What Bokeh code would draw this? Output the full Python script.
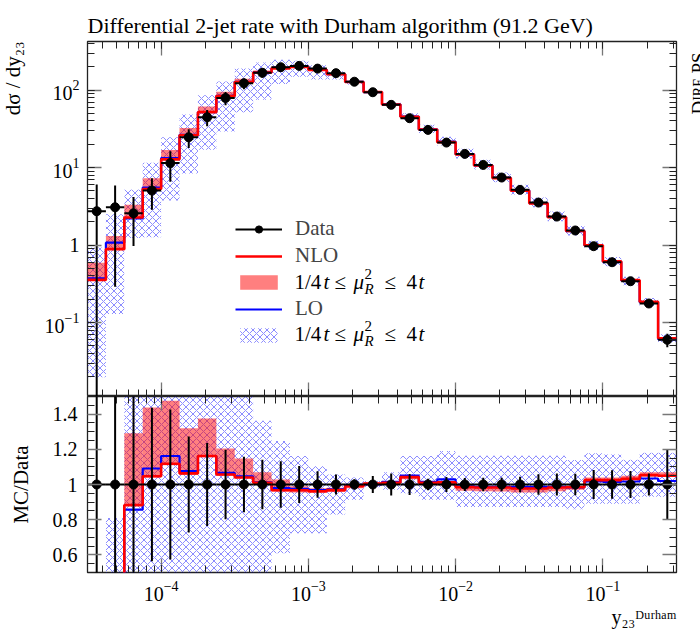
import numpy as np
from bokeh.plotting import figure
from bokeh.models import (Range1d, LogAxis, LinearAxis, LogTicker, FixedTicker,
                          Label, Legend, LegendItem, Title)
from bokeh.layouts import column, row
from bokeh.embed import file_html
from bokeh.resources import INLINE

FONT = "Liberation Serif"

# ---------------- data ----------------
log_edges = [-4.5, -4.375, -4.25, -4.125, -4.0, -3.875, -3.75, -3.625, -3.5,
             -3.375, -3.25, -3.125, -3.0, -2.875, -2.75, -2.625, -2.5, -2.375,
             -2.25, -2.125, -2.0, -1.875, -1.75, -1.625, -1.5, -1.375, -1.25,
             -1.125, -1.0, -0.875, -0.75, -0.625, -0.5]

data = [2.73, 3.07, 2.57, 5.05, 11.4, 24.6, 44.6, 79.0, 122, 167, 197, 205,
        189, 165, 128, 93.7, 64.4, 43.3, 30.6, 21.0, 15.0, 10.8, 7.43, 5.15,
        3.53, 2.33, 1.54, 0.966, 0.600, 0.341, 0.176, 0.0598]
data_err = [3.3, 2.78, 1.6, 2.2, 4.85, 6.7, 10.5, 15.6, 19.3, 23.4, 26.0, 21.5,
            14.2, 9.4, 3.8, 4.5, 4.0, 2.6, 1.0, 0.9, 0.55, 0.41, 0.28, 0.23,
            0.205, 0.145, 0.095, 0.079, 0.049, 0.026, 0.011, 0.0117]

# MC / Data ratios
nlo_ratio = [0.13, 0.288, 0.883, 1.047, 1.118, 1.063, 1.162, 1.057, 1.04, 1.01,
             0.967, 0.967, 0.962, 0.968, 0.99, 1.005, 1.01, 1.042, 1.01, 1.012,
             0.985, 0.983, 0.983, 0.977, 0.977, 0.983, 0.985, 1.025, 1.025, 1.032,
             1.053, 1.05]
nlo_band_lo = [0.127, 0.285, 0.88, 1.04, 1.11, 1.055, 1.155, 1.05, 1.035, 1.0,
               0.96, 0.955, 0.952, 0.958, 0.978, 0.995, 1.0, 1.03, 1.0, 0.995,
               0.965, 0.962, 0.96, 0.955, 0.955, 0.962, 0.97, 1.02, 1.02, 1.025,
               1.045, 1.045]
nlo_band_hi = [0.217, 0.427, 1.291, 1.438, 1.476, 1.32, 1.375, 1.204, 1.148, 1.07,
               1.029, 0.99, 0.978, 0.982, 1.0, 1.012, 1.018, 1.05, 1.015, 1.018,
               0.99, 0.988, 0.987, 0.98, 0.98, 0.985, 0.988, 1.04, 1.04, 1.05,
               1.07, 1.07]
lo_ratio = [0.136, 0.349, 0.857, 1.091, 1.162, 1.076, 1.162, 1.066, 1.047, 1.012,
            0.98, 0.975, 0.968, 0.972, 0.995, 1.0, 1.015, 1.05, 1.015, 1.029,
            0.99, 0.987, 0.987, 0.987, 0.987, 0.987, 0.983, 1.017, 1.015, 1.017,
            1.034, 1.02]
lo_band_lo = [0.0072, 0.042, 0.48, 0.25, 0.33, 0.34, 0.38, 0.37, 0.42, 0.45,
              0.609, 0.723, 0.723, 0.829, 0.914, 0.985, 0.97, 0.95, 0.914, 0.914,
              0.872, 0.872, 0.872, 0.872, 0.872, 0.872, 0.86, 0.89, 0.89, 0.89,
              0.93, 0.93]
lo_band_hi = [0.34, 0.81, 2.02, 2.28, 2.16, 1.96, 1.92, 1.63, 1.55, 1.362,
              1.247, 1.162, 1.105, 1.057, 1.04, 1.02, 1.07, 1.162, 1.162, 1.19,
              1.163, 1.163, 1.163, 1.163, 1.163, 1.163, 1.139, 1.177, 1.17, 1.14,
              1.18, 1.18]

# ---------------- derived arrays ----------------
edges = 10 ** np.array(log_edges)
lefts, rights = edges[:-1], edges[1:]
centers = np.sqrt(lefts * rights)
d = np.array(data)
de = np.array(data_err)
rel = de / d

def steps(v):
    v = np.asarray(v, dtype=float)
    return np.append(v, v[-1])

TICK_MAJ = "#777777"
TICK_MIN = "#222222"

def style_axis(ax, labels=True, size="20px"):
    ax.axis_line_color = None
    ax.major_tick_in = 14
    ax.major_tick_out = 0
    ax.minor_tick_in = 7
    ax.minor_tick_out = 0
    ax.major_tick_line_color = TICK_MAJ
    ax.major_tick_line_width = 1.3
    ax.minor_tick_line_color = TICK_MIN
    ax.minor_tick_line_width = 1
    if labels:
        ax.major_label_text_font = FONT
        ax.major_label_text_font_size = size
        ax.major_label_text_color = "black"
    else:
        ax.major_label_text_font_size = "1px"
        ax.major_label_text_alpha = 0
        ax.major_label_standoff = 0

def lab(fig, x, y, text, size, style="normal", align="left",
        baseline="middle", angle=0.0):
    fig.add_layout(Label(x=x, y=y, x_units="screen", y_units="screen",
                         text=text, text_font=FONT, text_font_size=f"{size}px",
                         text_font_style=style, text_align=align,
                         text_baseline=baseline, angle=angle,
                         text_color="black"))

def title(text, size, align, standoff):
    return Title(text=text, align=align, text_font=FONT,
                 text_font_size=f"{size}px", text_font_style="normal",
                 text_color="black", standoff=standoff)

def strip(width):
    f = figure(width=width, height=396, x_range=Range1d(0, 1),
               y_range=Range1d(0, 1), x_axis_type=None, y_axis_type=None,
               title=None, output_backend="svg", toolbar_location=None,
               min_border=0)
    f.outline_line_color = None
    f.grid.visible = False
    f.background_fill_color = "white"
    f.border_fill_color = "white"
    return f

xr = Range1d(edges[0], edges[-1])

# ---------------- main panel ----------------
top = figure(width=639, height=396, x_axis_type="log", y_axis_type="log",
             x_range=xr, y_range=Range1d(0.0111, 423), title=None,
             output_backend="svg", toolbar_location=None,
             min_border_left=47, min_border_right=3, min_border_top=41,
             min_border_bottom=0)
top.grid.visible = False
top.outline_line_color = "#222222"
top.outline_line_width = 1.3
top.background_fill_color = "white"
top.border_fill_color = "white"

style_axis(top.xaxis[0], labels=False)
style_axis(top.yaxis[0], labels=True)
top.yaxis[0].major_label_standoff = 8
top.yaxis[0].major_label_overrides = {1: "1"}
ax_t = LogAxis(ticker=LogTicker(num_minor_ticks=10))
style_axis(ax_t, labels=False)
top.add_layout(ax_t, "above")
ax_r = LogAxis(ticker=LogTicker(num_minor_ticks=10))
style_axis(ax_r, labels=False)
top.add_layout(ax_r, "right")

lo_band_r = top.quad(left=lefts, right=rights, bottom=np.array(lo_band_lo) * d,
                     top=np.array(lo_band_hi) * d, fill_alpha=0, line_alpha=0,
                     hatch_pattern="diagonal_cross", hatch_color="blue",
                     hatch_alpha=0.45, hatch_scale=7, hatch_weight=1)
nlo_band_r = top.quad(left=lefts, right=rights, bottom=np.array(nlo_band_lo) * d,
                      top=np.array(nlo_band_hi) * d, fill_color="red",
                      fill_alpha=0.5, line_alpha=0)
lo_line = top.step(x=edges, y=steps(np.array(lo_ratio) * d), mode="after",
                   line_color="blue", line_width=2.2)
nlo_line = top.step(x=edges, y=steps(np.array(nlo_ratio) * d), mode="after",
                    line_color="red", line_width=2.6)
xerr = top.segment(x0=lefts, x1=rights, y0=d, y1=d, line_color="black",
                   line_width=2)
top.segment(x0=centers, x1=centers, y0=np.maximum(d - de, 1e-6), y1=d + de,
            line_color="black", line_width=2)
dots = top.scatter(x=centers, y=d, size=9, marker="circle", color="black")

legend = Legend(items=[
    LegendItem(label="Data", renderers=[xerr, dots]),
    LegendItem(label="NLO", renderers=[nlo_line]),
    LegendItem(label=" ", renderers=[nlo_band_r]),
    LegendItem(label="LO", renderers=[lo_line]),
    LegendItem(label="  ", renderers=[lo_band_r]),
], location=(148, 49), orientation="vertical")
legend.background_fill_alpha = 0
legend.border_line_alpha = 0
legend.padding = 0
legend.margin = 0
legend.spacing = 2
legend.glyph_width = 47
legend.glyph_height = 18
legend.label_height = 24
legend.label_standoff = 13
legend.label_text_font = FONT
legend.label_text_font_size = "21px"
top.add_layout(legend, "center")

# band legend labels: 1/4 t <= mu_R^2 <= 4 t
for yc in (281.5, 333.5):
    yr = 396 - yc
    lab(top, 294 - 87, yr, "1/4", 21)
    lab(top, 323 - 87, yr, "t", 21, style="italic")
    lab(top, 334 - 87, yr, "≤", 21)
    lab(top, 353 - 87, yr, "μ", 21, style="italic")
    lab(top, 364 - 87, yr + 8, "2", 15)
    lab(top, 364 - 87, yr - 7, "R", 15, style="italic")
    lab(top, 384 - 87, yr, "≤", 21)
    lab(top, 406 - 87, yr, "4", 21)
    lab(top, 418 - 87, yr, "t", 21, style="italic")

top.add_layout(title("Differential 2-jet rate with Durham algorithm (91.2 GeV)",
                     22, "left", 8), "above")

# narrow strips left and right of the main panel for the vertical texts
left_strip = strip(40)
lab(left_strip, 12, 355, "dσ / dy₂₃", 21, align="right", angle=np.pi / 2)
side = strip(21)
lab(side, 19, 282, "D", 19, baseline="alphabetic", angle=np.pi / 2)
lab(side, 19, 295.7, "IRE", 14, baseline="alphabetic", angle=np.pi / 2)
lab(side, 19, 323, "PS", 19, baseline="alphabetic", angle=np.pi / 2)

# ---------------- ratio panel ----------------
bot = figure(width=700, height=236, x_axis_type="log", x_range=xr,
             y_range=Range1d(0.5, 1.5), title=None,
             output_backend="svg", toolbar_location=None,
             min_border_left=87, min_border_right=24, min_border_top=0,
             min_border_bottom=60)
bot.grid.visible = False
bot.outline_line_color = "#222222"
bot.outline_line_width = 1.3
bot.background_fill_color = "white"
bot.border_fill_color = "white"

style_axis(bot.xaxis[0], labels=True)
bot.xaxis[0].major_label_standoff = 8
bot.yaxis[0].ticker = FixedTicker(ticks=[0.6, 0.8, 1.0, 1.2, 1.4],
                                  minor_ticks=[0.5, 0.55, 0.65, 0.7, 0.75, 0.85,
                                               0.9, 0.95, 1.05, 1.1, 1.15, 1.25,
                                               1.3, 1.35, 1.45, 1.5])
style_axis(bot.yaxis[0], labels=True)
bot.yaxis[0].major_label_standoff = 10
bot.yaxis[0].major_label_overrides = {1: "1"}
ya = bot.yaxis[0]
ya.axis_label = "MC/Data"
ya.axis_label_text_font = FONT
ya.axis_label_text_font_size = "21px"
ya.axis_label_text_font_style = "normal"
ya.axis_label_text_color = "black"
ya.axis_label_standoff = 17
bx_t = LogAxis(ticker=LogTicker(num_minor_ticks=10))
style_axis(bx_t, labels=False)
bot.add_layout(bx_t, "above")
by_r = LinearAxis(ticker=FixedTicker(ticks=[0.6, 0.8, 1.0, 1.2, 1.4],
                                     minor_ticks=[0.5, 0.55, 0.65, 0.7, 0.75,
                                                  0.85, 0.9, 0.95, 1.05, 1.1,
                                                  1.15, 1.25, 1.3, 1.35, 1.45,
                                                  1.5]))
style_axis(by_r, labels=False)
bot.add_layout(by_r, "right")
bot.add_layout(title("y₂₃ᴰᵘʳʰᵃᵐ", 20, "right", 0), "below")

bot.quad(left=lefts, right=rights, bottom=lo_band_lo, top=lo_band_hi,
         fill_alpha=0, line_alpha=0, hatch_pattern="diagonal_cross",
         hatch_color="blue", hatch_alpha=0.45, hatch_scale=7, hatch_weight=1)
bot.quad(left=lefts, right=rights, bottom=nlo_band_lo, top=nlo_band_hi,
         fill_color="red", fill_alpha=0.5, line_alpha=0)
bot.step(x=edges, y=steps(lo_ratio), mode="after", line_color="blue",
         line_width=2.2)
bot.step(x=edges, y=steps(nlo_ratio), mode="after", line_color="red",
         line_width=2.6)
ones = np.ones_like(d)
bot.segment(x0=lefts, x1=rights, y0=ones, y1=ones, line_color="black",
            line_width=2)
bot.segment(x0=centers, x1=centers, y0=ones - rel, y1=ones + rel,
            line_color="black", line_width=2)
bot.scatter(x=centers, y=ones, size=9, marker="circle", color="black")

layout = column(row(left_strip, top, side, spacing=0), bot, spacing=0)
open("out.html", "w").write(file_html(layout, INLINE))
